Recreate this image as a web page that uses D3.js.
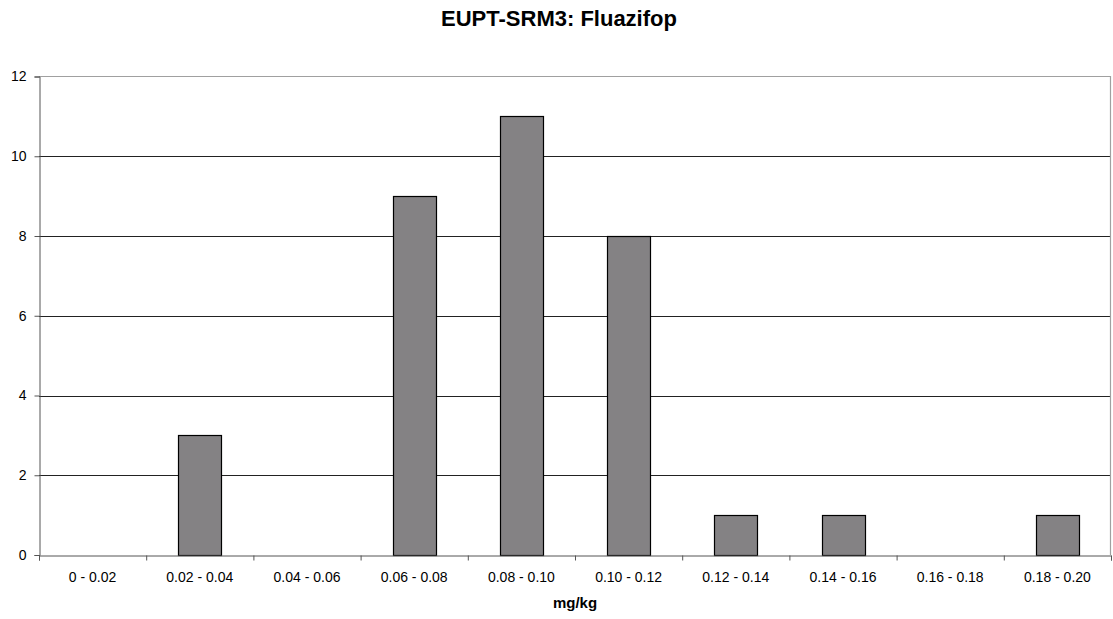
<!DOCTYPE html>
<html><head><meta charset="utf-8">
<script src="https://cdn.jsdelivr.net/npm/d3@7"></script>
<style>body{margin:0;background:#fff;} svg{display:block;}</style>
</head><body>
<svg id="chart" width="1113" height="619"></svg>
<script>
const categories = ["0 - 0.02","0.02 - 0.04","0.04 - 0.06","0.06 - 0.08","0.08 - 0.10","0.10 - 0.12","0.12 - 0.14","0.14 - 0.16","0.16 - 0.18","0.18 - 0.20"];
const counts = [0,3,0,9,11,8,1,1,0,1];
const yTicks = [0,2,4,6,8,10,12];
const title = "EUPT-SRM3: Fluazifop";
const xTitle = "mg/kg";

const svg = d3.select("#chart");
const m = {left:39, right:1111, top:76.5, bottom:555};
const x = d3.scaleBand().domain(categories).range([m.left, m.right]).paddingInner(0.6).paddingOuter(0.3);
const xEdge = d3.scaleLinear().domain([0, categories.length]).range([m.left, m.right]);
const y = d3.scaleLinear().domain([0,12]).range([m.bottom, m.top]);

// gridlines
svg.append("g").selectAll("line").data(yTicks.filter(d=>d>0 && d<12)).join("line")
  .attr("x1", m.left).attr("x2", m.right)
  .attr("y1", d=>Math.round(y(d))+0.5).attr("y2", d=>Math.round(y(d))+0.5)
  .attr("stroke","#222").attr("stroke-width",1);
// plot border top/right
svg.append("path").attr("d",`M${m.left},${m.top}H${m.right-0.5}V${m.bottom}`)
  .attr("fill","none").attr("stroke","#a0a0a0").attr("stroke-width",1.2);

// bars
svg.append("g").selectAll("rect").data(categories.map((c,i)=>({c,v:counts[i]})).filter(d=>d.v>0)).join("rect")
  .attr("x", d=>Math.round(x(d.c))+0.5).attr("width", Math.round(x.bandwidth()))
  .attr("y", d=>Math.round(y(d.v))+0.5).attr("height", d=>Math.round(y(0))-Math.round(y(d.v)))
  .attr("fill","#848284").attr("stroke","#000").attr("stroke-width",1.2);

// y axis
const yAxis = d3.axisLeft(y).tickValues(yTicks).tickSize(5).tickPadding(8).tickFormat(d3.format("d"));
const gy = svg.append("g").attr("transform",`translate(${m.left+0.5},0)`).call(yAxis);
gy.select(".domain").attr("stroke","#555");
gy.selectAll(".tick line").attr("stroke","#555");
gy.selectAll("text").attr("font-family","Arial, 'Liberation Sans', sans-serif").attr("font-size",14).attr("fill","#000");

// x axis
const xAxis = d3.axisBottom(xEdge).tickValues(d3.range(0, categories.length+1)).tickSize(5).tickFormat("");
const gx = svg.append("g").attr("transform",`translate(0,${m.bottom+0.5})`).call(xAxis);
gx.select(".domain").attr("stroke","#555");
gx.selectAll(".tick line").attr("stroke","#555");
svg.append("g").selectAll("text").data(categories).join("text")
  .attr("x", d=>x(d)+x.bandwidth()/2).attr("y", 582)
  .attr("text-anchor","middle").attr("font-family","Arial, 'Liberation Sans', sans-serif")
  .attr("font-size",14).attr("fill","#000").text(d=>d);

svg.append("text").attr("x",575).attr("y",608).attr("text-anchor","middle")
  .attr("font-family","Arial, 'Liberation Sans', sans-serif").attr("font-weight","bold")
  .attr("font-size",15).text(xTitle);
svg.append("text").attr("x",559).attr("y",26).attr("text-anchor","middle")
  .attr("font-family","Arial, 'Liberation Sans', sans-serif").attr("font-weight","bold")
  .attr("font-size",22).text(title);
</script>
</body></html>
